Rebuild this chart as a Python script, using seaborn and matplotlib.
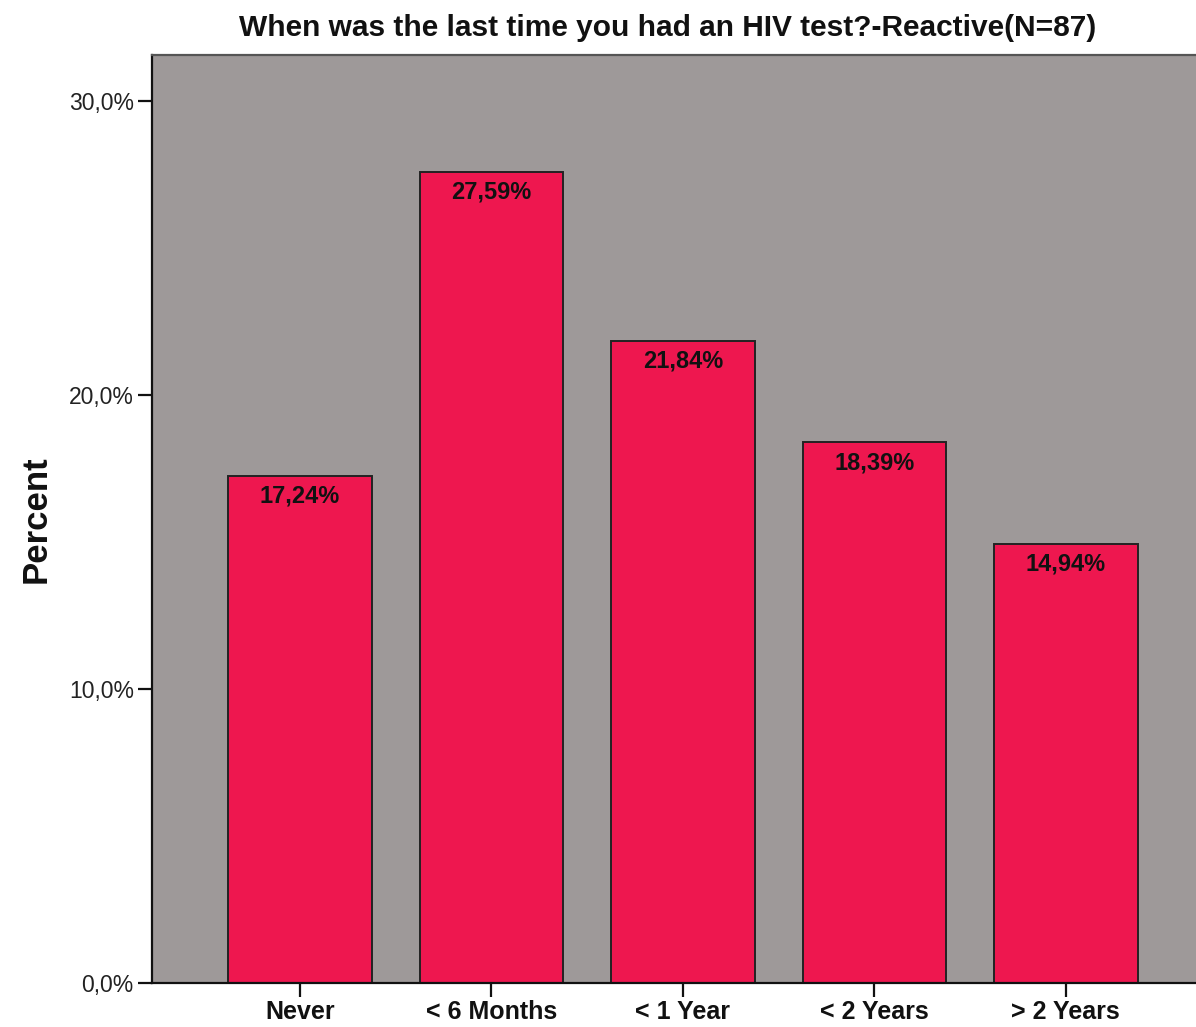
import matplotlib
matplotlib.use("Agg")
import matplotlib.pyplot as plt
import seaborn as sns
import pandas as pd

categories = ["Never", "< 6 Months", "< 1 Year", "< 2 Years", "> 2 Years"]
percents = [17.24, 27.59, 21.84, 18.39, 14.94]
value_labels = ["17,24%", "27,59%", "21,84%", "18,39%", "14,94%"]
yticks = [0, 10, 20, 30]
ytick_labels = ["0,0%", "10,0%", "20,0%", "30,0%"]
title = "When was the last time you had an HIV test?-Reactive(N=87)"

sns.set_theme(style="white")
plt.rcParams['font.family'] = ['Liberation Sans', 'DejaVu Sans']

df = pd.DataFrame({"cat": categories, "pct": percents})

fig = plt.figure(figsize=(11.96, 10.27), dpi=100)
ax = fig.add_axes([0.127, 0.0428, 0.873, 0.9036])
ax.set_facecolor("#9e9999")

sns.barplot(data=df, x="cat", y="pct", color="#ee174f", saturation=1,
            width=0.75, edgecolor="#222222", linewidth=1.4, ax=ax)

ax.set_xlim(-0.773, 4.68)
ax.set_ylim(0, 31.56)
ax.set_yticks(yticks)
ax.set_yticklabels(ytick_labels, fontsize=16.5, color="#222222")
ax.set_xlabel("")
ax.set_ylabel("Percent", fontsize=25, fontweight="bold", labelpad=12, color="#111111")
for lbl in ax.get_xticklabels():
    lbl.set_fontweight("bold")
    lbl.set_fontsize(18)
    lbl.set_color("#111111")

ax.tick_params(axis="both", direction="out", length=10, width=1.6, color="#111111", bottom=True, left=True)
ax.tick_params(axis="y", pad=3)
ax.tick_params(axis="x", pad=2)

ax.spines["right"].set_visible(False)
ax.spines["left"].set_color("#111111")
ax.spines["left"].set_linewidth(1.6)
ax.spines["bottom"].set_color("#111111")
ax.spines["bottom"].set_linewidth(1.6)
ax.spines["top"].set_color("#555555")
ax.spines["top"].set_linewidth(1.6)

for i, (v, t) in enumerate(zip(percents, value_labels)):
    ax.text(i, v - 0.3, t, ha="center", va="top", fontsize=17, fontweight="bold",
            color="#111111")

fig.text(0.558, 0.9727, title, ha="center", va="center", fontsize=21.5, fontweight="bold",
         color="#111111")

fig.savefig("out.png", dpi=100, facecolor="white")
